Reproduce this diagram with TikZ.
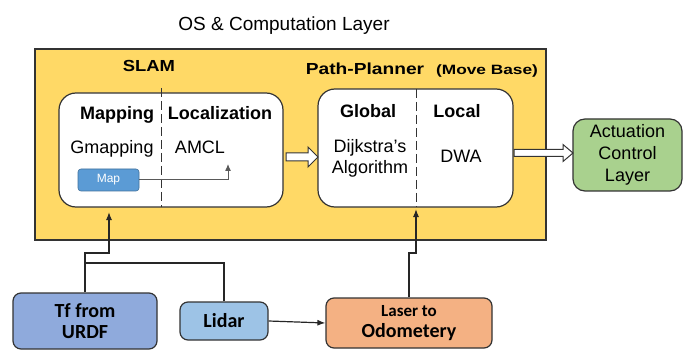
\documentclass[tikz,border=0pt]{standalone}
\usepackage{fontspec}
\setmainfont{Liberation Sans}
\newfontfamily\carl{Carlito}
\usetikzlibrary{arrows.meta,calc}
\definecolor{osyellow}{HTML}{FFD966}
\definecolor{mapblue}{HTML}{5B9BD5}
\definecolor{mapedge}{HTML}{41719C}
\definecolor{actgreen}{HTML}{A9D18E}
\definecolor{tfblue}{HTML}{8FAADC}
\definecolor{lidarblue}{HTML}{9DC3E6}
\definecolor{laserorange}{HTML}{F4B183}
\definecolor{edgegray}{HTML}{333333}
\definecolor{linegray}{HTML}{595959}
\tikzset{
  txt/.style={inner sep=0pt, anchor=base, font=\fontsize{18}{21}\selectfont},
  btxt/.style={txt, font=\fontsize{18}{21}\selectfont\bfseries},
  ybox/.style={draw=edgegray, line width=1.2pt, fill=osyellow, inner sep=0pt},
  wbox/.style={draw=edgegray, line width=1.2pt, fill=white, rounded corners=17pt, inner sep=0pt},
  mapbox/.style={draw=mapedge, line width=0.6pt, fill=mapblue, rounded corners=3pt, text=white,
    minimum width=61pt, minimum height=22pt, inner sep=0pt, font=\fontsize{12}{14}\selectfont},
  actbox/.style={draw=edgegray, line width=1.2pt, fill=actgreen, rounded corners=12pt,
    minimum width=109pt, minimum height=72pt, inner sep=0pt, align=center,
    font=\fontsize{18}{22}\selectfont},
  bbox/.style={draw=edgegray, line width=1.2pt, rounded corners=8pt, inner sep=0pt, align=center,
    font=\carl\bfseries\fontsize{20}{21}\selectfont},
  divd/.style={draw=edgegray, line width=1pt, dash pattern=on 9pt off 4pt},
  conn/.style={draw=black!85, line width=1.2pt, -{Latex[length=8pt,width=6pt]}},
  plain/.style={draw=black!85, line width=1.2pt},
  garr/.style={draw=linegray, line width=1pt, -{Latex[length=7pt,width=6pt]}},
  hollow/.style={draw=edgegray, line width=1pt, fill=white, line join=miter},
}
\begin{document}
\begin{tikzpicture}[x=1pt,y=-1pt]
\useasboundingbox (0,0) rectangle (683,350);

% title
\node[txt, font=\fontsize{19}{22}\selectfont] (title) at (284,30.5) {OS \& Computation Layer};

% OS layer
\node[ybox, minimum width=511pt, minimum height=191pt] (os) at (290.5,144.5) {};
\node[btxt, font=\fontsize{16}{18}\selectfont\bfseries] (slamlbl) at (149,72) {\scalebox{1.15}[1]{SLAM}};
\node[btxt, font=\fontsize{16}{18}\selectfont\bfseries] (pplbl) at (365,75) {\scalebox{1.2}[1]{Path-Planner}};
\node[btxt, font=\fontsize{13.5}{16}\selectfont\bfseries] (mblbl) at (487,75) {\scalebox{1.28}[1]{(Move Base)}};

% SLAM box
\node[wbox, minimum width=224pt, minimum height=114pt] (slam) at (171,150) {};
\draw[divd] (161,88) -- (161,207);
\node[btxt] (mapping) at (117,120) {Mapping};
\node[btxt] (loc) at (220,120) {Localization};
\node[txt] (gmap) at (112,154) {Gmapping};
\node[txt] (amcl) at (200,154) {AMCL};
\node[mapbox] (map) at (108.5,180) {Map};
\coordinate (amclin) at (228,164);
\draw[garr] (map.east) -- (228,180) -- (amclin);

% Path planner box
\node[wbox, minimum width=195pt, minimum height=118pt] (pp) at (415.5,148) {};
\draw[divd] (416,89) -- (416,207);
\node[btxt] (global) at (368,118) {Global};
\node[btxt] (local) at (457,118) {Local};
\node[txt] (dij1) at (370,152.7) {Dijkstra’s};
\node[txt] (dij2) at (370,174) {Algorithm};
\node[txt] (dwa) at (461,163) {DWA};

% hollow arrow SLAM -> PP
\coordinate (h1s) at (286,157);
\coordinate (h1e) at (318,157);
\draw[hollow] ($(h1s)+(0,-4)$) -- ($(h1e)+(-10,-4)$) -- ($(h1e)+(-10,-10)$) -- (h1e)
  -- ($(h1e)+(-10,10)$) -- ($(h1e)+(-10,4)$) -- ($(h1s)+(0,4)$) -- cycle;

% Actuation
\node[actbox] (act) at (627.5,155) {Actuation\\Control\\Layer};

% hollow arrow PP -> Actuation
\coordinate (h2s) at (514,153);
\coordinate (h2e) at (573,153);
\draw[hollow] ($(h2s)+(0,-3.5)$) -- ($(h2e)+(-10,-3.5)$) -- ($(h2e)+(-10,-8.5)$) -- (h2e)
  -- ($(h2e)+(-10,8.5)$) -- ($(h2e)+(-10,3.5)$) -- ($(h2s)+(0,3.5)$) -- cycle;

% bottom boxes
\node[bbox, fill=tfblue, minimum width=144pt, minimum height=56pt] (tf) at (85,321) {Tf from\\URDF};
\node[bbox, fill=lidarblue, minimum width=88pt, minimum height=38pt] (lidar) at (224,321) {Lidar};
\node[bbox, fill=laserorange, minimum width=166pt, minimum height=50pt] (laser) at (409,323)
  {{\fontsize{17}{21}\selectfont Laser to}\\Odometery};

% connectors
\coordinate (slamin) at (109,212);
\draw[conn] (tf.north) -- (85,253) -- (109,253) -- (slamin);
\draw[plain] (lidar.north) -- (224,263) -- (85,263);
\draw[conn] (lidar.east) -- (laser.west);
\coordinate (ppin) at (416,209);
\draw[conn] (laser.north) -- (409,253) -- (416,253) -- (ppin);
\end{tikzpicture}
\end{document}
